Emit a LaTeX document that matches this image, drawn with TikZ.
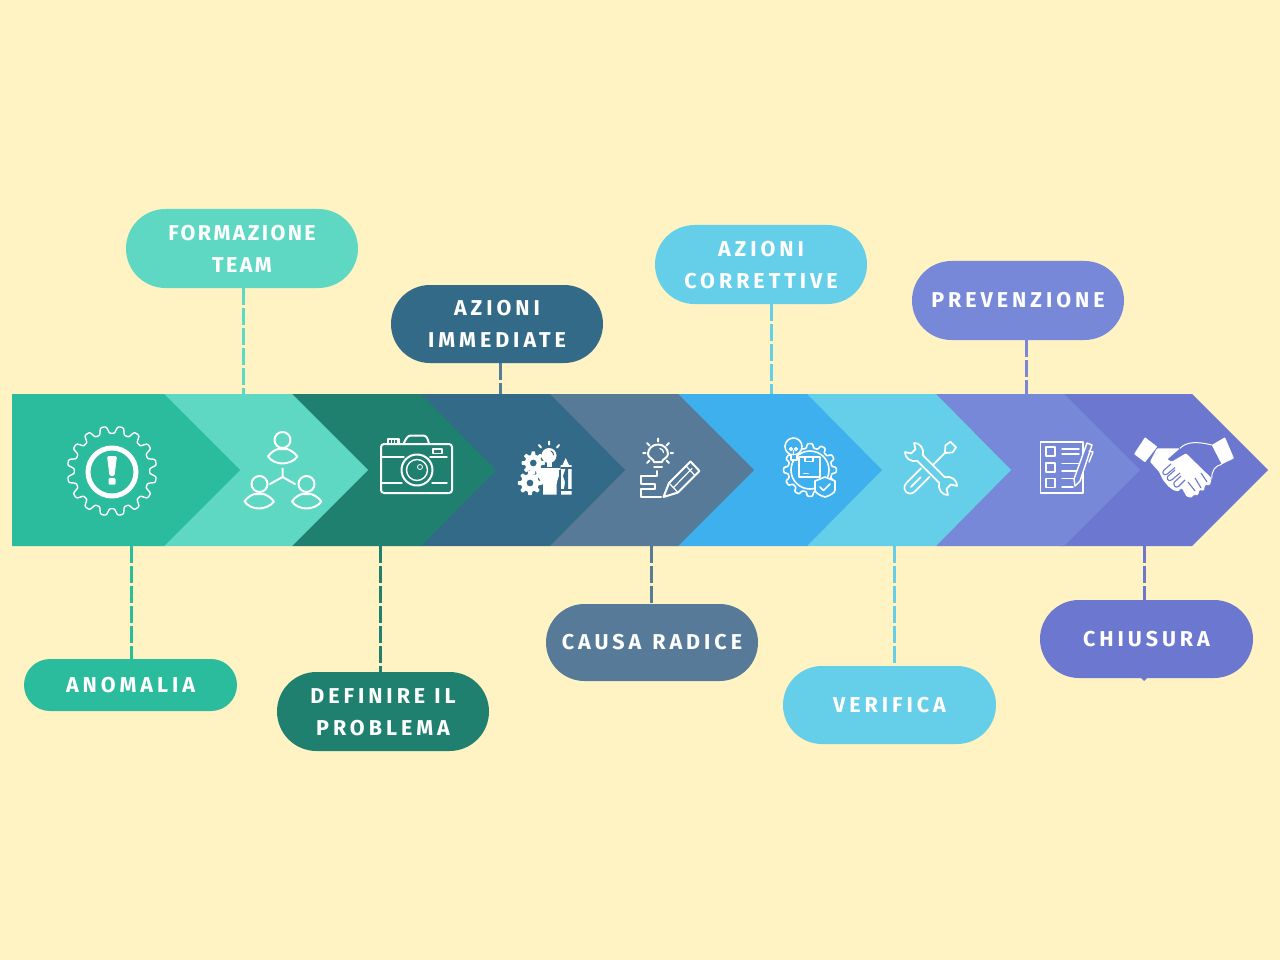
\documentclass[tikz,border=0pt]{standalone}
\usepackage{fontspec}
\setmainfont[LetterSpace=18.4,BoldFont={Fira Sans Bold}]{Fira Sans}
\newfontfamily\tightfont[LetterSpace=11]{Fira Sans Bold}
\usetikzlibrary{shapes.misc,backgrounds,calc}
\definecolor{bgc}{HTML}{FFF2C3}
\definecolor{c1}{HTML}{2BBB9D}
\definecolor{c2}{HTML}{5FD8C3}
\definecolor{c3}{HTML}{1F806F}
\definecolor{c4}{HTML}{326A87}
\definecolor{c5}{HTML}{567A98}
\definecolor{c6}{HTML}{3EB0EE}
\definecolor{c7}{HTML}{65CFE9}
\definecolor{c8}{HTML}{7888D9}
\definecolor{c9}{HTML}{6C78CF}
\tikzset{
 pill/.style={rounded rectangle,inner sep=0pt,text=white,align=center,minimum height=78pt,minimum width=212pt,
   font=\fontsize{21.5}{32}\selectfont\bfseries},
 link/.style={line width=3pt,dash pattern=on 17pt off 3pt},
 ico/.style={draw=white,line width=2pt,line join=round,line cap=round,fill=none},
 thin ico/.style={draw=white,line width=1.4pt,line join=round,line cap=round,fill=none}
}
\newcommand{\fgear}[4]{\fill[white,even odd rule] plot[samples=121,domain=0:360] ({#1+(#3+1.7*tanh(3*cos(8*\x)))*cos(\x)},{#2+(#3+1.7*tanh(3*cos(8*\x)))*sin(\x)}) -- cycle (#1,#2) circle[radius=#4];}
\newcommand{\bust}[2]{\draw[shift={(#1,#2)}] (268,456.5) .. controls (271,452) and (275,450) .. (278,449) -- (287,449) .. controls (290,450) and (294,452) .. (297.5,456.5) .. controls (294,461) and (288,463.5) .. (282.5,463.5) .. controls (277,463.5) and (271,461) .. (268,456.5) -- cycle;}
\begin{document}
\begin{tikzpicture}[x=1pt,y=-1pt]
\useasboundingbox (0,0) rectangle (1280,960);
\begin{scope}[on background layer]
\fill[bgc] (0,0) rectangle (1280,960);
\end{scope}
% anchors on the arrow
\coordinate (a1) at (131,546);
\coordinate (a2) at (243.5,394);
\coordinate (a3) at (380,546);
\coordinate (a4) at (500,394);
\coordinate (a5) at (651,546);
\coordinate (a6) at (771,394);
\coordinate (a7) at (894,546);
\coordinate (a8) at (1026,394);
\coordinate (a9) at (1144,546);
% pills
\node[pill,fill=c1,minimum width=213pt,minimum height=52pt] (p1) at (130.5,685) {ANOMALIA};
\node[pill,fill=c2,minimum width=232pt,minimum height=79pt,font=\fontsize{21.5}{32}\selectfont\tightfont] (p2) at (242,248.5) {FORMAZIONE\\TEAM};
\node[pill,fill=c3,minimum height=79pt] (p3) at (383,711.5) {\rule{0pt}{16pt}DEFINIRE IL\\PROBLEMA};
\node[pill,fill=c4] (p4) at (497,324) {AZIONI\\IMMEDIATE};
\node[pill,fill=c5,minimum height=77pt] (p5) at (652,642.5) {CAUSA\hspace{2pt} RADICE};
\node[pill,fill=c7,minimum height=79pt] (p6) at (761,264.5) {\rule{0pt}{16pt}AZIONI\\CORRETTIVE};
\node[pill,fill=c7,minimum width=213pt] (p7) at (889.5,705) {VERIFICA};
\node[pill,fill=c8,minimum height=79pt] (p8) at (1018,300.5) {PREVENZIONE};
\node[pill,fill=c9,minimum width=213pt] (p9) at (1146.5,639) {CHIUSURA};
\coordinate (nub) at (1144,681);
% connectors
\begin{scope}[on background layer]
\draw[link,draw=c1] (a1) -- (a1 |- p1.north);
\draw[link,draw=c2] (p2.south -| a2) -- (a2);
\draw[link,draw=c3] (a3) -- (a3 |- p3.north);
\draw[link,draw=c5] (p4.south -| a4) -- (a4);
\draw[link,draw=c5] (a5) -- (a5 |- p5.north);
\draw[link,draw=c7] (p6.south -| a6) -- (a6);
\draw[link,draw=c7] (a7) -- (a7 |- p7.north);
\draw[link,draw=c8] (p8.south -| a8) -- (a8);
\draw[link,draw=c9] (a9) -- (a9 |- p9.north);
\end{scope}
\fill[c9] ($(nub)+(-3,-3)$) -- (nub) -- ($(nub)+(3,-3)$) -- cycle;
% arrow, last segment first
\fill[c9] (1060,394) -- (1192,394) -- (1268,470) -- (1192,546) -- (1060,546) -- cycle;
\fill[c8] (936,394) -- (1064,394) -- (1140,470) -- (1064,546) -- (936,546) -- cycle;
\fill[c7] (807,394) -- (936,394) -- (1011,470) -- (936,546) -- (807,546) -- cycle;
\fill[c6] (678,394) -- (807,394) -- (882,470) -- (807,546) -- (678,546) -- cycle;
\fill[c5] (550,394) -- (678,394) -- (754,470) -- (678,546) -- (550,546) -- cycle;
\fill[c4] (421,394) -- (550,394) -- (625,470) -- (550,546) -- (421,546) -- cycle;
\fill[c3] (292,394) -- (421,394) -- (496,470) -- (421,546) -- (292,546) -- cycle;
\fill[c2] (164,394) -- (292,394) -- (368,470) -- (292,546) -- (164,546) -- cycle;
\fill[c1] (12,394) -- (164,394) -- (240,470) -- (164,546) -- (12,546) -- cycle;
% icon 1: gear with warning
\draw[white,line width=1.4pt,line join=round] plot[samples=257,domain=0:360] ({112+(41.2+3.6*tanh(-2.2*cos(16*\x)))*cos(\x)},{471+(41.2+3.6*tanh(-2.2*cos(16*\x)))*sin(\x)}) -- cycle;
\draw[white,line width=5pt] (112,472) circle[radius=24];
\fill[white,rounded corners=1.5pt] (107,456) -- (117,456) -- (114.5,476) -- (109.5,476) -- cycle;
\fill[white,rounded corners=1pt] (108.5,478) rectangle (115.5,484.5);
% icon 2: people
\begin{scope}[ico]
\draw (282.5,440) circle[radius=8];
\bust{0}{0}
\draw (259.5,484) circle[radius=8];
\bust{-23.5}{45}
\draw (306.5,484) circle[radius=8];
\bust{24}{45}
\draw (282.5,468.5) -- (282.5,477) -- (270,484) (282.5,477) -- (295,484);
\end{scope}
% icon 3: camera
\begin{scope}[ico]
\draw[rounded corners=3pt] (381,444) rectangle (452,493);
\draw (403.5,444) .. controls (406,438) and (408,435.5) .. (411,435.5) -- (423,435.5) .. controls (426,435.5) and (428,438) .. (429,444);
\draw[line width=1.4pt] (388,444) -- (388,439) -- (399,439) -- (399,444);
\draw[line width=1pt] (391,439) -- (391,444) (394,439) -- (394,444) (397,439) -- (397,444);
\draw[line width=1.4pt] (381,457) -- (404,457) (430,457) -- (447,457);
\draw[line width=1.4pt] (381,483) -- (402,483) (432,483) -- (447,483);
\draw (417,470) circle[radius=15.5];
\draw[line width=1.4pt] (417,470) circle[radius=10.5];
\draw[line width=.8pt] (420,467) circle[radius=2.5];
\draw[line width=1.2pt] (433,449) rectangle (442,453.5);
\end{scope}
% icon 4: gears, bulb, funnel, pencil
\fgear{533.3}{463}{10}{3.5}
\fgear{530}{483}{10.5}{3.5}
\fill[white] (549,455.5) circle[radius=7.5];
\draw[c4,line width=1pt,line cap=round] (551,451) .. controls (553,452) and (553.5,453.5) .. (553.5,455);
\fill[white] (546.5,461) rectangle (551.5,467);
\draw[ico] (539,445) -- (541,447.5) (549,441.5) -- (549,444.5) (559,445) -- (557,447.5);
\fill[white] (535,468) -- (560,468) -- (560,473) -- (557.5,480) -- (556.5,485) -- (556.5,494.5) -- (543,494.5) -- (543,485) -- (537,475) -- cycle;
\fill[white] (565.7,458) -- (569,465) -- (571.5,465) -- (571.5,494.5) -- (560.5,494.5) -- (560.5,465) -- (562.5,465) -- cycle;
\draw[c4,line width=1.1pt] (560.5,468) -- (571.5,468) (560.5,490) -- (571.5,490) (560,470) -- (560,494.5);
\fill[c4] (565.5,469) -- (568,469) -- (568,489) -- (564,489) -- (565,482) -- (563,476) -- cycle;
% icon 5: bulb and pencil
\begin{scope}[ico]
\draw (654,462) .. controls (654,459) and (648,458) .. (648,454) .. controls (648,448.5) and (652.5,444.5) .. (658,444.5) .. controls (663.5,444.5) and (668,448.5) .. (668,454) .. controls (668,458) and (662,459) .. (662,462) -- cycle;
\draw (654,467) -- (662,467);
\draw[line width=1.2pt] (660,448.5) .. controls (662,449) and (663.5,450.5) .. (663.5,452.5);
\draw (658,438.5) -- (658,441.5) (647,443) -- (649.5,445.5) (669,443) -- (666.5,445.5) (643,453) -- (645.5,453) (670.5,453) -- (673,453) (647,463) -- (649.5,460.5) (669,463) -- (666.5,460.5);
\draw (657,471) -- (657,476) -- (641,476) -- (641,484) -- (655,484) -- (655,489) -- (641,489) -- (641,496.5) -- (661,496.5);
\draw (690.5,461.5) -- (699.5,471) -- (678,492.5) -- (663.5,497) -- (669,483) -- cycle;
\draw[line width=1.2pt] (686,466) -- (695,475.5) (669,483) -- (678,492.5) (673.5,487.5) -- (692,468.5);
\end{scope}
% icon 6: gear, bulb, box, shield
\begin{scope}[thin ico,line width=1.6pt]
\draw plot[samples=200,domain=-125:225] ({810+(24.2+2.2*tanh(2.5*cos(12*\x)))*cos(\x)},{470+(24.2+2.2*tanh(2.5*cos(12*\x)))*sin(\x)});
\draw (810,470) circle[radius=19];
\draw (799,457) rectangle (820,477);
\draw (805,457) -- (805,461.5) -- (813,461.5) -- (813,457);
\draw (804,473.5) -- (808,473.5);
\draw[fill=c6] (793.5,446.5) circle[radius=8.5];
\draw[fill=c6] (791,455) -- (791,460) -- (797,460) -- (797,455);
\draw[line width=1.1pt] (791,449) circle[radius=1.5] (796,449) circle[radius=1.5] (793.5,450.5) -- (793.5,455);
\draw[fill=c6] (825,477) -- (835,481) -- (835,490) .. controls (835,493) and (829,496) .. (825,497) .. controls (821,496) and (815,493) .. (815,490) -- (815,481) -- cycle;
\draw (820,487) -- (823.5,490.5) -- (830,484);
\end{scope}
% icon 7: wrench and screwdriver
\begin{scope}[shift={(931,469)},x={(.7071pt,-.7071pt)},y={(.7071pt,.7071pt)},ico,line width=1.7pt]
\draw (-15.5,4) -- (15.5,4) .. controls (19,10) and (27,10.5) .. (30.4,6.4) -- (25,3) -- (25,-3) -- (30.4,-6.4) .. controls (27,-10.5) and (19,-10) .. (15.5,-4) -- (-15.5,-4) .. controls (-19,-10) and (-27,-10.5) .. (-30.4,-6.4) -- (-25,-3) -- (-25,3) -- (-30.4,6.4) .. controls (-27,10.5) and (-19,10) .. (-15.5,4);
\draw (-7.5,-6.5) -- (-7.5,-27) .. controls (-7.5,-36) and (4.5,-36) .. (4.5,-27) -- (4.5,-6.5);
\draw (-1.5,-13) -- (-1.5,-27);
\draw (-1.5,4) -- (-1.5,21) -- (-6.5,27) -- (-5.5,33) -- (2.5,33) -- (3.5,27) -- (-1.5,21);
\end{scope}
% icon 8: checklist
\begin{scope}[ico,line width=1.4pt]
\draw (1040.5,442) rectangle (1083,493);
\draw[line width=1.6pt] (1046,447) rectangle (1055,456) (1046,463) rectangle (1055,472) (1046,478.5) rectangle (1055,487.5);
\draw (1062,449) -- (1079,449) (1062,454) -- (1079,454) (1062,463.5) -- (1081,463.5) (1062,471) -- (1077,471) (1062,478.5) -- (1075,478.5) (1062,487) -- (1073,487);
\draw[fill=c8] (1087,443) -- (1092,445) -- (1080,481) -- (1075,486) -- (1074,479) -- cycle;
\draw (1089,451) -- (1093,452) -- (1089,462);
\end{scope}
% icon 9: handshake
\fill[white,rounded corners=.6pt] (1145,437.3) -- (1157.3,446.7) -- (1145,462.3) -- (1134,454) -- cycle;
\fill[white,rounded corners=.6pt] (1211.7,445) -- (1225,437.3) -- (1234,458.3) -- (1221.7,464.3) -- cycle;
\fill[white,rounded corners=1pt] (1157,448.3) -- (1180,448.3) -- (1167.3,459.3) -- (1171.7,461.7) -- (1186,453.3) -- (1211.7,478.3) -- (1210,485) -- (1205,485) -- (1204,490.7) -- (1199.3,490) -- (1198.3,495) -- (1193.3,495) -- (1191.7,497.7) -- (1186.7,496.7) -- (1181.7,488) -- (1178,491.5) -- (1173,490) -- (1168,486) -- (1163,480) -- (1159,471.7) -- (1150,461.7) -- cycle;
\draw[c9,line width=1.1pt,rounded corners=1pt] (1171,464) -- (1163,471) -- (1163,474) -- (1166,475) -- (1175,467.5);
\draw[c9,line width=1.1pt,rounded corners=1pt] (1175,470) -- (1167,477) -- (1168,480.5) -- (1171,480.5) -- (1180,473);
\draw[c9,line width=1.1pt,rounded corners=1pt] (1181,476) -- (1173.5,483) -- (1175,487) -- (1178,487) -- (1185,480);
\draw[c9,line width=1.1pt] (1188,482) -- (1195,491) (1195,478) -- (1201,488) (1201,473) -- (1207,482);
\draw[white,line width=1pt] (1180,448.3) .. controls (1186,442) and (1196,441) .. (1211.7,445);
\draw[white,line width=1pt] (1221.7,464.3) .. controls (1215,466) and (1212,470) .. (1211.7,478.3);
\end{tikzpicture}
\end{document}
